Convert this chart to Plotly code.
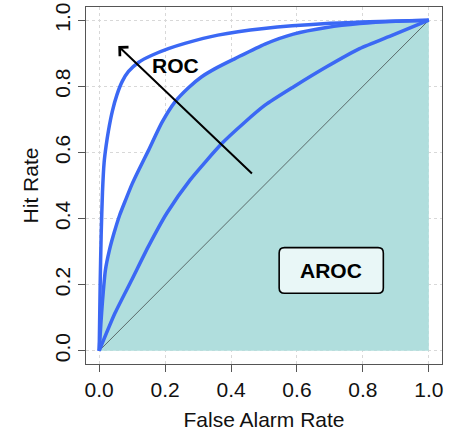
import plotly.graph_objects as go

# ---- data ----
outer_x = [0, 0.003, 0.006, 0.010, 0.015, 0.021, 0.028, 0.040, 0.054, 0.070, 0.089, 0.120, 0.160, 0.210, 0.260, 0.360, 0.500, 0.690, 0.850, 1.0]
outer_y = [0, 0.20, 0.35, 0.48, 0.57, 0.62, 0.665, 0.725, 0.775, 0.815, 0.845, 0.873, 0.894, 0.914, 0.930, 0.955, 0.975, 0.990, 0.996, 1.0]

mid_x = [0, 0.005, 0.010, 0.019, 0.030, 0.045, 0.062, 0.080, 0.100, 0.120, 0.150, 0.190, 0.230, 0.270, 0.311, 0.360, 0.412, 0.503, 0.589, 0.690, 0.790, 0.900, 1.0]
mid_y = [0, 0.08, 0.15, 0.245, 0.30, 0.356, 0.410, 0.456, 0.505, 0.547, 0.607, 0.690, 0.753, 0.795, 0.829, 0.858, 0.884, 0.928, 0.958, 0.978, 0.990, 0.997, 1.0]

low_x = [0, 0.048, 0.099, 0.149, 0.205, 0.276, 0.372, 0.440, 0.503, 0.589, 0.690, 0.790, 0.890, 1.0]
low_y = [0, 0.114, 0.215, 0.315, 0.416, 0.517, 0.627, 0.690, 0.743, 0.798, 0.859, 0.914, 0.955, 1.0]

diag_x = [0, 1]
diag_y = [0, 1]

tick_vals = [0, 0.2, 0.4, 0.6, 0.8, 1.0]
tick_text = ["0.0", "0.2", "0.4", "0.6", "0.8", "1.0"]

# annotation positions
arrow_head = (0.058, 0.922)
arrow_tail = (0.468, 0.532)
roc_label = (0.233, 0.862)
aroc_box = (0.546, 0.174, 0.862, 0.312)
aroc_label = (0.704, 0.243)

BLUE = "#3b68f4"
FILL = "rgb(176,222,221)"
FONT = "Liberation Sans, Arial, sans-serif"
FS = 21

fig = go.Figure()

fig.add_trace(go.Scatter(x=mid_x, y=mid_y, mode="lines", line=dict(width=0, color=FILL, shape="spline", smoothing=0.6),
                         fill="tozeroy", fillcolor=FILL, hoverinfo="skip", showlegend=False))
fig.add_trace(go.Scatter(x=diag_x, y=diag_y, mode="lines", line=dict(width=1, color="#5a6a6a"),
                         showlegend=False))
for xs, ys in [(outer_x, outer_y), (mid_x, mid_y), (low_x, low_y)]:
    fig.add_trace(go.Scatter(x=xs, y=ys, mode="lines",
                             line=dict(width=3.5, color=BLUE, shape="spline", smoothing=0.6),
                             showlegend=False))

# rounded box for AROC
x0, y0, x1, y1 = aroc_box
r = 0.016
path = (f"M{x0+r},{y0} L{x1-r},{y0} Q{x1},{y0} {x1},{y0+r} L{x1},{y1-r} Q{x1},{y1} {x1-r},{y1} "
        f"L{x0+r},{y1} Q{x0},{y1} {x0},{y1-r} L{x0},{y0+r} Q{x0},{y0} {x0+r},{y0} Z")
fig.add_shape(type="path", path=path, xref="x", yref="y", fillcolor="#e9f7f7",
              line=dict(color="black", width=1.6), layer="above")

fig.add_annotation(x=arrow_head[0], y=arrow_head[1], ax=arrow_tail[0], ay=arrow_tail[1],
                   xref="x", yref="y", axref="x", ayref="y", text="", showarrow=True,
                   arrowhead=4, arrowsize=1.2, arrowwidth=2, arrowcolor="black")
fig.add_annotation(x=roc_label[0], y=roc_label[1], xref="x", yref="y", text="<b>ROC</b>",
                   showarrow=False, font=dict(family=FONT, size=FS, color="black"))
fig.add_annotation(x=aroc_label[0], y=aroc_label[1], xref="x", yref="y", text="<b>AROC</b>",
                   showarrow=False, font=dict(family=FONT, size=FS, color="black"))

axis_common = dict(range=[-0.04, 1.04], tickvals=tick_vals, ticktext=tick_text,
                   showline=True, mirror=True, linecolor="#555555", linewidth=1,
                   ticks="outside", ticklen=7, tickcolor="#555555", tickwidth=1,
                   showgrid=True, gridcolor="#d8d8d8", griddash="dot", gridwidth=1,
                   zeroline=False, automargin=False,
                   tickfont=dict(family=FONT, size=FS, color="#111111"))

fig.update_layout(
    width=452, height=432,
    margin=dict(l=86, r=10, t=7, b=68),
    plot_bgcolor="white", paper_bgcolor="white",
    xaxis=dict(**axis_common, title=dict(text="False Alarm Rate", font=dict(family=FONT, size=FS, color="#111111"), standoff=12)),
    yaxis=dict(**axis_common, tickangle=-90, title=dict(text="Hit Rate", font=dict(family=FONT, size=FS, color="#111111"), standoff=6)),
)

fig.write_html("out.html", config={"displayModeBar": False},
               post_script="document.body.style.margin='0';document.body.style.overflow='hidden';")
